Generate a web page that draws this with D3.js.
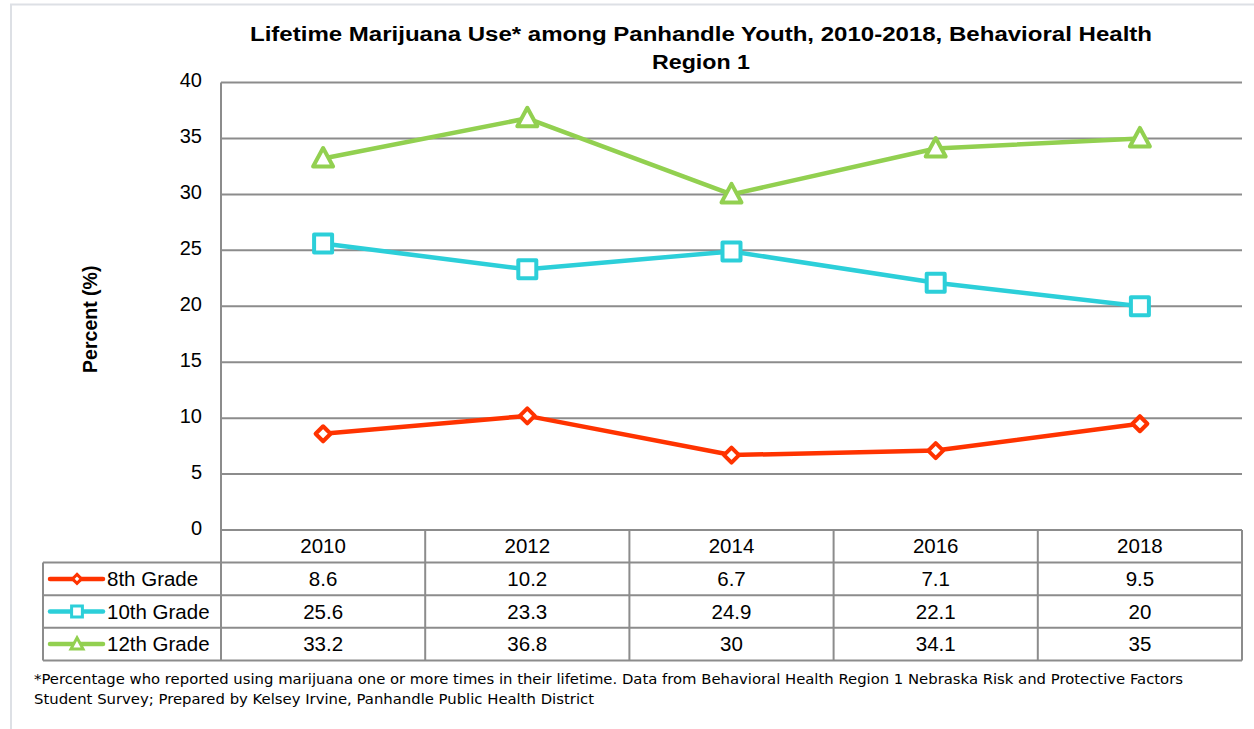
<!DOCTYPE html>
<html>
<head>
<meta charset="utf-8">
<script src="https://cdn.jsdelivr.net/npm/d3@7"></script>
<style>
  body { margin: 0; background: #fff; }
  svg { display: block; }
</style>
</head>
<body>
<div id="chart"></div>
<script>
// chart data
var years = ["2010", "2012", "2014", "2016", "2018"];
var grade8 = [8.6, 10.2, 6.7, 7.1, 9.5];
var grade10 = [25.6, 23.3, 24.9, 22.1, 20];
var grade12 = [33.2, 36.8, 30, 34.1, 35];
var yTicks = [0, 5, 10, 15, 20, 25, 30, 35, 40];

var series = [
  {name: "8th Grade", values: grade8, color: "#ff3300", shape: "diamond"},
  {name: "10th Grade", values: grade10, color: "#2ccfd9", shape: "square"},
  {name: "12th Grade", values: grade12, color: "#92d050", shape: "triangle"}
];

var W = 1254, H = 729;
var plot = {left: 221, right: 1242, top: 82.5, bottom: 530};
var rowH = 32.6;
var font = "Liberation Sans, Arial, sans-serif";
var fs = 20.5;

var svg = d3.select("#chart").append("svg")
  .attr("width", W)
  .attr("height", H);

// outer frame
svg.append("path")
  .attr("d", "M11," + (H + 2) + "V4.5H" + (W + 2))
  .attr("fill", "none")
  .attr("stroke", "#dde0e5")
  .attr("stroke-width", 2);

var x = d3.scaleBand()
  .domain(years)
  .range([plot.left, plot.right]);

var y = d3.scaleLinear()
  .domain([0, 40])
  .range([plot.bottom, plot.top]);

// gridlines
svg.append("g").selectAll("line")
  .data(yTicks)
  .enter()
  .append("line")
  .attr("x1", plot.left)
  .attr("x2", plot.right)
  .attr("y1", function(d) { return y(d); })
  .attr("y2", function(d) { return y(d); })
  .attr("stroke", "#8c8c8c")
  .attr("stroke-width", 2);

// y axis line
svg.append("line")
  .attr("x1", plot.left).attr("x2", plot.left)
  .attr("y1", plot.top).attr("y2", plot.bottom)
  .attr("stroke", "#8c8c8c")
  .attr("stroke-width", 2);

// y tick labels
var yAxis = svg.append("g")
  .attr("transform", "translate(" + (plot.left - 19) + ",0)")
  .call(d3.axisLeft(y).tickValues(yTicks).tickSize(0).tickPadding(0));
yAxis.select(".domain").remove();
yAxis.selectAll("text")
  .attr("font-family", font)
  .attr("font-size", 20)
  .attr("fill", "#000")
  .attr("dy", "0.2em");

// y axis title
svg.append("text")
  .attr("transform", "translate(97," + ((plot.top + plot.bottom) / 2 + 13) + ") rotate(-90)")
  .attr("text-anchor", "middle")
  .attr("font-family", font)
  .attr("font-weight", "bold")
  .attr("font-size", 19.5)
  .text("Percent (%)");

// title (stretched horizontally like the original)
var title = svg.append("g")
  .attr("font-family", font)
  .attr("font-weight", "bold")
  .attr("font-size", 20)
  .attr("fill", "#000");
title.append("text").attr("x", 250).attr("y", 41)
  .attr("textLength", 902).attr("lengthAdjust", "spacingAndGlyphs")
  .text("Lifetime Marijuana Use* among Panhandle Youth, 2010-2018, Behavioral Health");
title.append("text").attr("x", 652).attr("y", 69)
  .attr("textLength", 98).attr("lengthAdjust", "spacingAndGlyphs")
  .text("Region 1");

// marker shapes
function markerPath(shape) {
  if (shape === "diamond") return "M0,-7.5L7.5,0L0,7.5L-7.5,0Z";
  if (shape === "square") return "M-9,-9H9V9H-9Z";
  return "M0,-10.5L10,8H-10Z";
}

var line = d3.line()
  .x(function(d, i) { return x(years[i]) + x.bandwidth() / 2; })
  .y(function(d) { return y(d); });

series.forEach(function(s) {
  svg.append("path")
    .datum(s.values)
    .attr("d", line)
    .attr("fill", "none")
    .attr("stroke", s.color)
    .attr("stroke-width", 4.5)
    .attr("stroke-linejoin", "round");

  svg.append("g").selectAll("path")
    .data(s.values)
    .enter()
    .append("path")
    .attr("transform", function(d, i) {
      return "translate(" + (x(years[i]) + x.bandwidth() / 2) + "," + y(d) + ")";
    })
    .attr("d", markerPath(s.shape))
    .attr("fill", "#fff")
    .attr("stroke", s.color)
    .attr("stroke-width", 4)
    .attr("stroke-linejoin", "round");
});

// data table
var table = svg.append("g");
var tableLeft = 43;
var tableBottom = plot.bottom + rowH * 4;
var gridColor = "#8c8c8c";

// horizontal lines
table.append("line")
  .attr("x1", plot.left).attr("x2", plot.right)
  .attr("y1", plot.bottom).attr("y2", plot.bottom);
for (var r = 1; r <= 4; r++) {
  table.append("line")
    .attr("x1", tableLeft).attr("x2", plot.right)
    .attr("y1", plot.bottom + rowH * r).attr("y2", plot.bottom + rowH * r);
}
// vertical lines
table.append("line")
  .attr("x1", tableLeft).attr("x2", tableLeft)
  .attr("y1", plot.bottom + rowH).attr("y2", tableBottom);
years.forEach(function(yr) {
  table.append("line")
    .attr("x1", x(yr)).attr("x2", x(yr))
    .attr("y1", plot.bottom).attr("y2", tableBottom);
});
table.append("line")
  .attr("x1", plot.right).attr("x2", plot.right)
  .attr("y1", plot.bottom).attr("y2", tableBottom);
table.selectAll("line")
  .attr("stroke", gridColor)
  .attr("stroke-width", 2);

// header years
table.selectAll("text.year")
  .data(years)
  .enter()
  .append("text")
  .attr("class", "year")
  .attr("x", function(d) { return x(d) + x.bandwidth() / 2; })
  .attr("y", plot.bottom + rowH / 2 + 7)
  .attr("text-anchor", "middle")
  .attr("font-family", font)
  .attr("font-size", fs)
  .text(function(d) { return d; });

// series rows
series.forEach(function(s, k) {
  var cy = plot.bottom + rowH * (k + 1) + rowH / 2;
  // legend key
  table.append("line")
    .attr("x1", 50).attr("x2", 103)
    .attr("y1", cy).attr("y2", cy)
    .attr("stroke", s.color)
    .attr("stroke-width", 4.5)
    .attr("stroke-linecap", "round");
  table.append("path")
    .attr("transform", "translate(77," + cy + ") scale(0.6)")
    .attr("d", markerPath(s.shape))
    .attr("fill", "#fff")
    .attr("stroke", s.color)
    .attr("stroke-width", 5);
  table.append("text")
    .attr("x", 107)
    .attr("y", cy + 7)
    .attr("font-family", font)
    .attr("font-size", fs)
    .text(s.name);

  table.selectAll("text.v" + k)
    .data(s.values)
    .enter()
    .append("text")
    .attr("class", "v" + k)
    .attr("x", function(d, i) { return x(years[i]) + x.bandwidth() / 2; })
    .attr("y", cy + 7)
    .attr("text-anchor", "middle")
    .attr("font-family", font)
    .attr("font-size", fs)
    .text(function(d) { return d; });
});

// footnote
var note = svg.append("g")
  .attr("font-family", "DejaVu Sans, sans-serif")
  .attr("font-size", 13.5)
  .attr("fill", "#000");
note.append("text").attr("x", 34).attr("y", 684)
  .attr("textLength", 1149).attr("lengthAdjust", "spacingAndGlyphs")
  .text("*Percentage who reported using marijuana one or more times in their lifetime. Data from Behavioral Health Region 1 Nebraska Risk and Protective Factors");
note.append("text").attr("x", 34).attr("y", 704)
  .attr("textLength", 560).attr("lengthAdjust", "spacingAndGlyphs")
  .text("Student Survey; Prepared by Kelsey Irvine, Panhandle Public Health District");
</script>
</body>
</html>
